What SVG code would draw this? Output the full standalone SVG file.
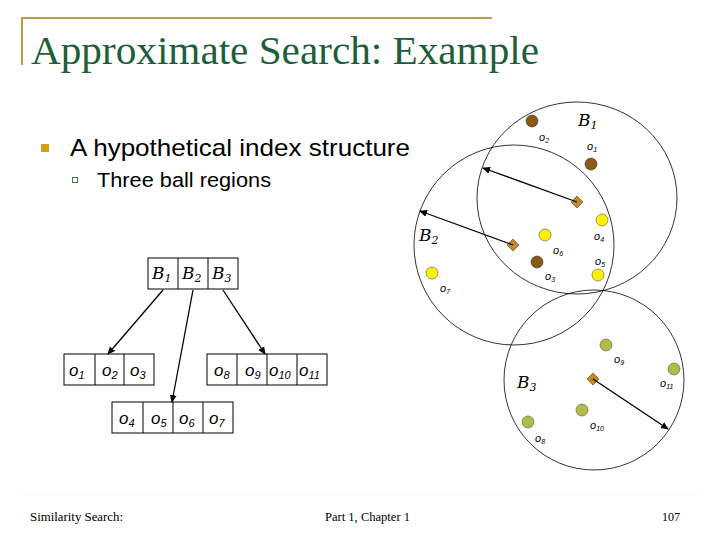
<svg xmlns="http://www.w3.org/2000/svg" width="720" height="540" viewBox="0 0 720 540">
<style>
.ser{font-family:"Liberation Serif",serif}
.sans{font-family:"Liberation Sans",Arial,sans-serif}
.lbl{font-family:"Liberation Sans",Arial,sans-serif;font-style:italic;font-size:11px}
.cal{font-family:"DejaVu Serif","Liberation Serif",serif;font-style:italic;font-size:17px}
.cell{font-family:"Liberation Sans",Arial,sans-serif;font-style:italic;font-size:17px}
.ball{fill:none;stroke:#000;stroke-width:0.8}
.box{fill:#fff;stroke:#000;stroke-width:1}
.br{fill:#8B5A14;stroke:#333;stroke-width:0.6}
.ye{fill:#FFF000;stroke:#555;stroke-width:0.6}
.ol{fill:#B2BC44;stroke:#555;stroke-width:0.6}
.dm{fill:#C08A2A;stroke:#5a4010;stroke-width:0.6}
.ar{stroke:#000;stroke-width:1.3;marker-end:url(#ah)}
</style>
<defs><marker id="ah" markerWidth="8" markerHeight="8" refX="7" refY="4" orient="auto" markerUnits="userSpaceOnUse"><path d="M0,0.5 L8,4 L0,7.5 Z" fill="#000"/></marker></defs>
<rect width="720" height="540" fill="#fff"/>
<path d="M22,65 V18 H492" fill="none" stroke="#B8A040" stroke-width="2"/>
<text x="31" y="64" class="ser" font-size="40" fill="#1E5E3A" textLength="508" lengthAdjust="spacingAndGlyphs">Approximate Search: Example</text>
<rect x="41" y="144" width="8" height="8" fill="#D4A017"/>
<text x="70" y="156" class="sans" font-size="24" textLength="340" lengthAdjust="spacingAndGlyphs">A hypothetical index structure</text>
<rect x="72.5" y="177.5" width="5" height="5" fill="none" stroke="#3F7A3F" stroke-width="1"/>
<text x="97" y="187" class="sans" font-size="20" textLength="174" lengthAdjust="spacingAndGlyphs">Three ball regions</text>

<g id="balls">
<ellipse class="ball" cx="577" cy="198" rx="100" ry="96"/>
<circle class="ball" cx="514" cy="245" r="100"/>
<ellipse class="ball" cx="594" cy="380" rx="90" ry="90"/>
</g>
<g id="objects">
<circle class="br" cx="532" cy="121" r="6"/>
<circle class="br" cx="591" cy="164" r="6"/>
<circle class="ye" cx="602" cy="220" r="6"/>
<circle class="ye" cx="545" cy="235" r="6"/>
<circle class="br" cx="537" cy="262" r="6"/>
<circle class="ye" cx="598" cy="275" r="6"/>
<circle class="ye" cx="432" cy="273" r="6"/>
<circle class="ol" cx="606" cy="345" r="6"/>
<circle class="ol" cx="674" cy="369" r="6"/>
<circle class="ol" cx="582" cy="410" r="6"/>
<circle class="ol" cx="528" cy="422" r="6"/>
<text class="lbl" x="539" y="141">o<tspan font-size="7" dy="2">2</tspan></text>
<text class="lbl" x="587" y="150">o<tspan font-size="7" dy="2">1</tspan></text>
<text class="lbl" x="594" y="240">o<tspan font-size="7" dy="2">4</tspan></text>
<text class="lbl" x="553" y="254">o<tspan font-size="7" dy="2">6</tspan></text>
<text class="lbl" x="545" y="280">o<tspan font-size="7" dy="2">3</tspan></text>
<text class="lbl" x="595" y="265">o<tspan font-size="7" dy="2">5</tspan></text>
<text class="lbl" x="440" y="292">o<tspan font-size="7" dy="2">7</tspan></text>
<text class="lbl" x="614" y="363">o<tspan font-size="7" dy="2">9</tspan></text>
<text class="lbl" x="660" y="387">o<tspan font-size="7" dy="2">11</tspan></text>
<text class="lbl" x="590" y="429">o<tspan font-size="7" dy="2">10</tspan></text>
<text class="lbl" x="535" y="442">o<tspan font-size="7" dy="2">8</tspan></text>
<text class="cal" x="578" y="126">B<tspan font-size="11" dy="3">1</tspan></text>
<text class="cal" x="419" y="241">B<tspan font-size="11" dy="3">2</tspan></text>
<text class="cal" x="517" y="388">B<tspan font-size="11" dy="3">3</tspan></text>
</g>
<g id="pivots">
<path class="dm" d="M577,196 L583,202 L577,208 L571,202 Z"/>
<path class="dm" d="M513,239 L519,245 L513,251 L507,245 Z"/>
<path class="dm" d="M593,373 L599,379 L593,385 L587,379 Z"/>
</g>

<g id="root">
<rect class="box" x="148" y="258" width="90" height="31"/>
<path d="M178,258V289M208,258V289" stroke="#000"/>
<text class="cal" x="152" y="279">B<tspan font-size="11" dy="3">1</tspan></text>
<text class="cal" x="182" y="279">B<tspan font-size="11" dy="3">2</tspan></text>
<text class="cal" x="212" y="279">B<tspan font-size="11" dy="3">3</tspan></text>
</g>
<g id="leaf1">
<rect class="box" x="64" y="354" width="90" height="31"/>
<path d="M95,354V385M124,354V385" stroke="#000"/>
<text class="cell" x="69" y="376">o<tspan font-size="11" dy="3">1</tspan></text>
<text class="cell" x="102" y="376">o<tspan font-size="11" dy="3">2</tspan></text>
<text class="cell" x="130" y="376">o<tspan font-size="11" dy="3">3</tspan></text>
</g>
<g id="leaf2">
<rect class="box" x="207" y="354" width="120" height="31"/>
<path d="M237,354V385M267,354V385M297,354V385" stroke="#000"/>
<text class="cell" x="214" y="376">o<tspan font-size="11" dy="3">8</tspan></text>
<text class="cell" x="245" y="376">o<tspan font-size="11" dy="3">9</tspan></text>
<text class="cell" x="269" y="376">o<tspan font-size="11" dy="3">10</tspan></text>
<text class="cell" x="299" y="376">o<tspan font-size="11" dy="3">11</tspan></text>
</g>
<g id="leaf3">
<rect class="box" x="112" y="402" width="121" height="31"/>
<path d="M143,402V433M173,402V433M203,402V433" stroke="#000"/>
<text class="cell" x="119" y="424">o<tspan font-size="11" dy="3">4</tspan></text>
<text class="cell" x="151" y="424">o<tspan font-size="11" dy="3">5</tspan></text>
<text class="cell" x="179" y="424">o<tspan font-size="11" dy="3">6</tspan></text>
<text class="cell" x="209" y="424">o<tspan font-size="11" dy="3">7</tspan></text>
</g>

<g id="connectors">
<line class="ar" x1="577" y1="202" x2="483" y2="168"/>
<line class="ar" x1="513" y1="245" x2="420" y2="211"/>
<line class="ar" x1="593" y1="379" x2="668" y2="429"/>
<line class="ar" x1="163" y1="290" x2="108" y2="354"/>
<line class="ar" x1="193" y1="290" x2="172" y2="402"/>
<line class="ar" x1="223" y1="290" x2="265" y2="354"/>
</g>

<line x1="22" y1="494" x2="700" y2="494" stroke="#FFFBE0" stroke-width="1"/>
<text x="30" y="521" class="ser" font-size="12" textLength="93" lengthAdjust="spacingAndGlyphs">Similarity Search:</text>
<text x="325" y="521" class="ser" font-size="12" textLength="85" lengthAdjust="spacingAndGlyphs">Part 1, Chapter 1</text>
<text x="662" y="521" class="ser" font-size="12">107</text>
</svg>
